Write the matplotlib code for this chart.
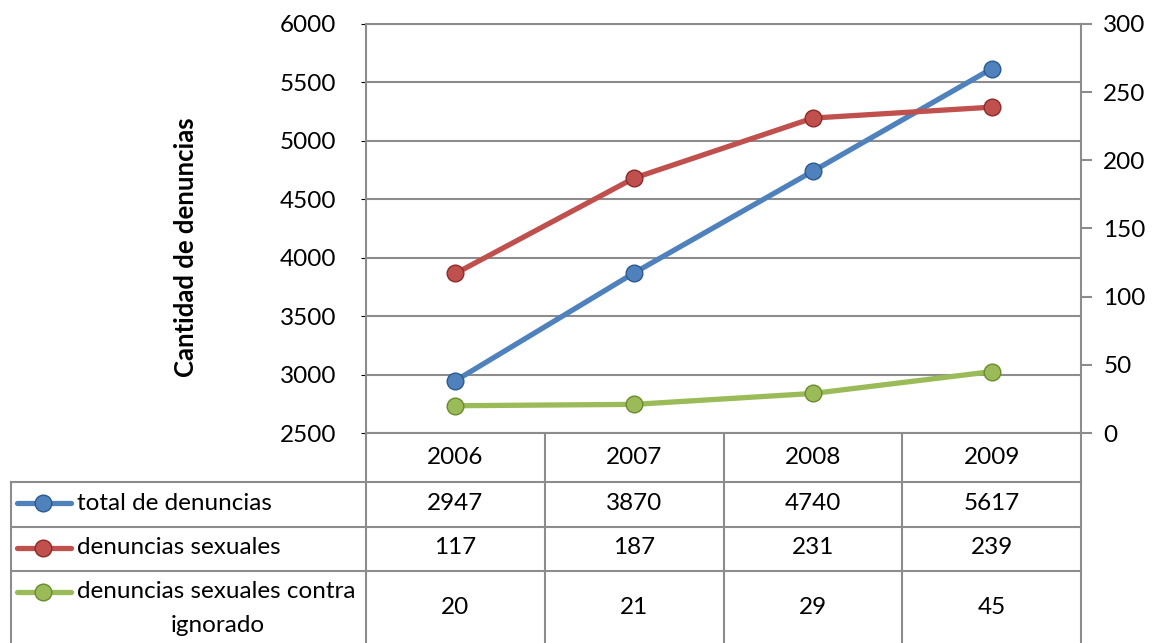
import matplotlib.pyplot as plt

plt.rcParams['font.family'] = ['Lato', 'DejaVu Sans']

# yearly counts of complaints
years = ['2006', '2007', '2008', '2009']
total = [2947, 3870, 4740, 5617]
sexuales = [117, 187, 231, 239]
ignorado = [20, 21, 29, 45]
names = ['total de denuncias', 'denuncias sexuales', 'denuncias sexuales contra\nignorado']

blue, red, green = '#4F81BD', '#C0504D', '#9BBB59'
dark = {blue: '#2C5A8F', red: '#8C2A27', green: '#6B8A2E'}
grid = '#8C8C8C'
fs = 17.5

W, H = 1155, 643
fig = plt.figure(figsize=(W / 100, H / 100), dpi=100)

# main plot area: left axis for total, right axis for the two smaller series
ax = fig.add_axes([366 / W, 1 - 433 / H, (1081 - 366) / W, (433 - 24) / H])
ax.set_xlim(-0.5, 3.5)
ax.set_ylim(2500, 6000)
ax.set_yticks(range(2500, 6001, 500))
ax.grid(axis='y', color=grid, lw=1.5)
ax.set_axisbelow(True)
ax.tick_params(left=False, bottom=False, labelbottom=False, labelsize=fs, pad=18)
for s in ax.spines.values():
    s.set_color(grid)
    s.set_linewidth(1.5)

ax2 = ax.twinx()
ax2.set_ylim(0, 300)
ax2.set_yticks(range(0, 301, 50))
ax2.tick_params(right=True, length=8, width=1.5, color=grid, labelsize=fs, pad=8)
for s in ax2.spines.values():
    s.set_visible(False)

x = range(len(years))
lines = [(ax, total, blue), (ax2, sexuales, red), (ax2, ignorado, green)]
for a, vals, c in lines:
    a.plot(x, vals, color=c, lw=3.8, marker='o', ms=12, mfc=c, mec=dark[c], mew=1.0,
           solid_capstyle='round', zorder=3)

fig.text(186 / W, 1 - 247 / H, 'Cantidad de denuncias', rotation=90, ha='center',
         va='center', fontsize=fs + 1, fontweight='bold')

# data table under the chart, laid out in pixel units
tab = fig.add_axes([0, 0, 1, 1], zorder=-1)
tab.set_xlim(0, W)
tab.set_ylim(H, 0)
tab.axis('off')

col_edges = [366 + i * (1081 - 366) / 4 for i in range(5)]
col_mid = [(col_edges[i] + col_edges[i + 1]) / 2 for i in range(4)]
row_edges = [482, 527, 571]
row_mid = [503, 548, 608]

for xe in col_edges:
    tab.plot([xe, xe], [433, H], color=grid, lw=1.5)
tab.plot([11, 11], [482, H], color=grid, lw=1.5)
for ye in row_edges:
    tab.plot([11, 1081], [ye, ye], color=grid, lw=1.5)

for xm, yr in zip(col_mid, years):
    tab.text(xm, 458, yr, ha='center', va='center', fontsize=fs)

for (a, vals, c), name, ym in zip(lines, names, row_mid):
    for xm, v in zip(col_mid, vals):
        tab.text(xm, ym, str(v), ha='center', va='center', fontsize=fs)
    parts = name.split('\n')
    ky = ym if len(parts) == 1 else 592
    tab.plot([17, 71], [ky, ky], color=c, lw=3.8, solid_capstyle='round')
    tab.plot([43], [ky], marker='o', ms=12, mfc=c, mec=dark[c], mew=1.0)
    tab.text(77, ky, parts[0], ha='left', va='center', fontsize=fs)
    if len(parts) > 1:
        # wrapped label: second line centred in the header column
        tab.text(218, 625, parts[1], ha='center', va='center', fontsize=fs)

fig.savefig('out.png', dpi=100)
